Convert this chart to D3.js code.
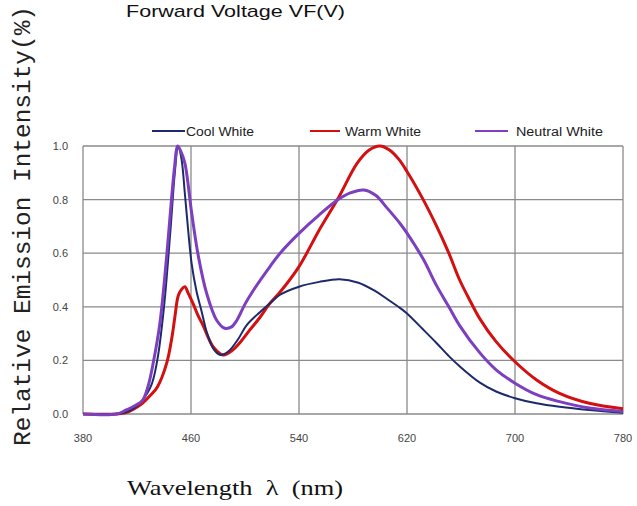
<!DOCTYPE html>
<html>
<head>
<meta charset="utf-8">
<script src="https://cdn.jsdelivr.net/npm/d3@7"></script>
<style>
  body { margin: 0; background: #fff; }
  svg { display: block; }
</style>
</head>
<body>
<div id="chart"></div>
<script>
// wavelength (nm) / relative intensity pairs
let coolWl = [380,410,420,430,435,440,445,448,450.5,453,455.5,458,460.5,464,468,472,477,482,488,495,501,511,520,526,540,555,570,584,596,605,615,620,632,642,651,659,674,686,700,716,733,755,780];
let coolVal = [0,0.005,0.03,0.1,0.2,0.4,0.7,0.9,1.0,0.95,0.82,0.68,0.56,0.46,0.38,0.3,0.24,0.22,0.235,0.28,0.33,0.38,0.42,0.445,0.475,0.493,0.503,0.49,0.46,0.43,0.395,0.375,0.315,0.264,0.216,0.178,0.117,0.084,0.059,0.04,0.027,0.015,0.005];

let warmWl = [380,405,412,418,424,430,435,442,446,448,450.5,453,455.5,458,461.7,465,469,476.5,484,490,496,503,511,518,526,540,555,569,583,592,600,607,614,620,632,642,651,659,667,674,686,700,716,733,755,780];
let warmVal = [0,0,0.005,0.02,0.04,0.07,0.1,0.19,0.29,0.36,0.44,0.465,0.475,0.45,0.41,0.37,0.33,0.25,0.22,0.235,0.265,0.31,0.36,0.41,0.455,0.55,0.687,0.805,0.935,0.985,1.0,0.985,0.95,0.905,0.8,0.7,0.6,0.5,0.42,0.355,0.27,0.195,0.127,0.077,0.04,0.02];

let neutralWl = [380,405,412,418,424,428,432,437,442,445.7,448,450,452.5,455.5,460.5,465.4,471.6,479,485,490,494,500,506,518.5,526,540,555,569,578,588,597,605,615,620,632,642,651,659,674,686,700,716,733,755,780];
let neutralVal = [0,0,0.015,0.03,0.05,0.1,0.19,0.34,0.59,0.81,0.93,1.0,0.98,0.935,0.75,0.59,0.45,0.35,0.32,0.325,0.35,0.41,0.46,0.55,0.6,0.674,0.743,0.8,0.825,0.836,0.815,0.77,0.71,0.675,0.578,0.478,0.4,0.33,0.228,0.165,0.115,0.072,0.046,0.022,0.009];

let xTicks = [380, 460, 540, 620, 700, 780];
let yTicks = [0, 0.2, 0.4, 0.6, 0.8, 1.0];

let seriesNames = ["Cool White", "Warm White", "Neutral White"];
let seriesColors = ["#1c2a6b", "#d40f0f", "#7b3fc0"];

let width = 637, height = 506;
let margin = {left: 83, right: 14, top: 146, bottom: 92};

let svg = d3.select("#chart").append("svg")
    .attr("width", width)
    .attr("height", height);

let x = d3.scaleLinear().domain([380, 780]).range([margin.left, width - margin.right]);
let y = d3.scaleLinear().domain([0, 1]).range([height - margin.bottom, margin.top]);

// grid
svg.append("g").selectAll("line.v")
  .data(xTicks)
  .enter().append("line")
    .attr("x1", d => x(d)).attr("x2", d => x(d))
    .attr("y1", y(0)).attr("y2", y(1))
    .attr("stroke", "#8a8a8a").attr("stroke-width", 1.3);

svg.append("g").selectAll("line.h")
  .data(yTicks)
  .enter().append("line")
    .attr("x1", x(380)).attr("x2", x(780))
    .attr("y1", d => y(d)).attr("y2", d => y(d))
    .attr("stroke", "#8a8a8a").attr("stroke-width", 1.3);

// tick labels
svg.append("g").selectAll("text")
  .data(xTicks)
  .enter().append("text")
    .attr("x", d => x(d))
    .attr("y", y(0) + 28)
    .attr("text-anchor", "middle")
    .style("font", "11px Arial, 'Liberation Sans', sans-serif")
    .style("fill", "#444")
    .text(d => d);

svg.append("g").selectAll("text")
  .data(yTicks)
  .enter().append("text")
    .attr("x", 68)
    .attr("y", d => y(d) + 4)
    .attr("text-anchor", "end")
    .style("font", "11px Arial, 'Liberation Sans', sans-serif")
    .style("fill", "#444")
    .text(d => d3.format(".1f")(d));

// curves
let line = d3.line()
    .x(d => x(d[0]))
    .y(d => y(d[1]))
    .curve(d3.curveCatmullRom.alpha(0.5));

let series = [
  {wl: coolWl, val: coolVal, w: 2},
  {wl: warmWl, val: warmVal, w: 3},
  {wl: neutralWl, val: neutralVal, w: 3}
];

// warm first, then cool, neutral on top
[1, 0, 2].forEach(i => {
  let s = series[i];
  svg.append("path")
    .datum(d3.zip(s.wl, s.val))
    .attr("fill", "none")
    .attr("stroke", seriesColors[i])
    .attr("stroke-width", s.w)
    .attr("stroke-linejoin", "round")
    .attr("d", line);
});

// legend
let legendX = [152, 310, 475];
let legendTextX = [34, 35, 41];
let legendTextW = [68, 76, 87];
let legend = svg.append("g").selectAll("g")
  .data(seriesNames)
  .enter().append("g")
    .attr("transform", (d, i) => "translate(" + legendX[i] + ",131)");

legend.append("line")
    .attr("x1", 0).attr("x2", (d, i) => i == 1 ? 30 : 33)
    .attr("stroke", (d, i) => seriesColors[i])
    .attr("stroke-width", 2);

legend.append("text")
    .attr("x", (d, i) => legendTextX[i])
    .attr("y", 4.5)
    .attr("textLength", (d, i) => legendTextW[i])
    .attr("lengthAdjust", "spacingAndGlyphs")
    .style("font", "12.5px Arial, 'Liberation Sans', sans-serif")
    .style("fill", "#222")
    .text(d => d);

// titles
svg.append("text")
    .attr("x", 126)
    .attr("y", 17)
    .attr("textLength", 219)
    .attr("lengthAdjust", "spacingAndGlyphs")
    .style("font", "17px Arial, 'Liberation Sans', sans-serif")
    .style("fill", "#111")
    .text("Forward Voltage VF(V)");

svg.append("text")
    .attr("transform", "translate(30,226) rotate(-90)")
    .attr("text-anchor", "middle")
    .attr("textLength", 440)
    .attr("lengthAdjust", "spacingAndGlyphs")
    .style("font", "24px 'Liberation Mono', 'Courier New', monospace")
    .style("fill", "#222")
    .text("Relative Emission Intensity(%)");

svg.append("text")
    .attr("x", 127)
    .attr("y", 495)
    .attr("textLength", 216)
    .attr("lengthAdjust", "spacingAndGlyphs")
    .style("font", "21px 'Liberation Serif', 'Times New Roman', serif")
    .style("fill", "#111")
    .style("white-space", "pre")
    .text("Wavelength  λ  (nm)");
</script>
</body>
</html>
